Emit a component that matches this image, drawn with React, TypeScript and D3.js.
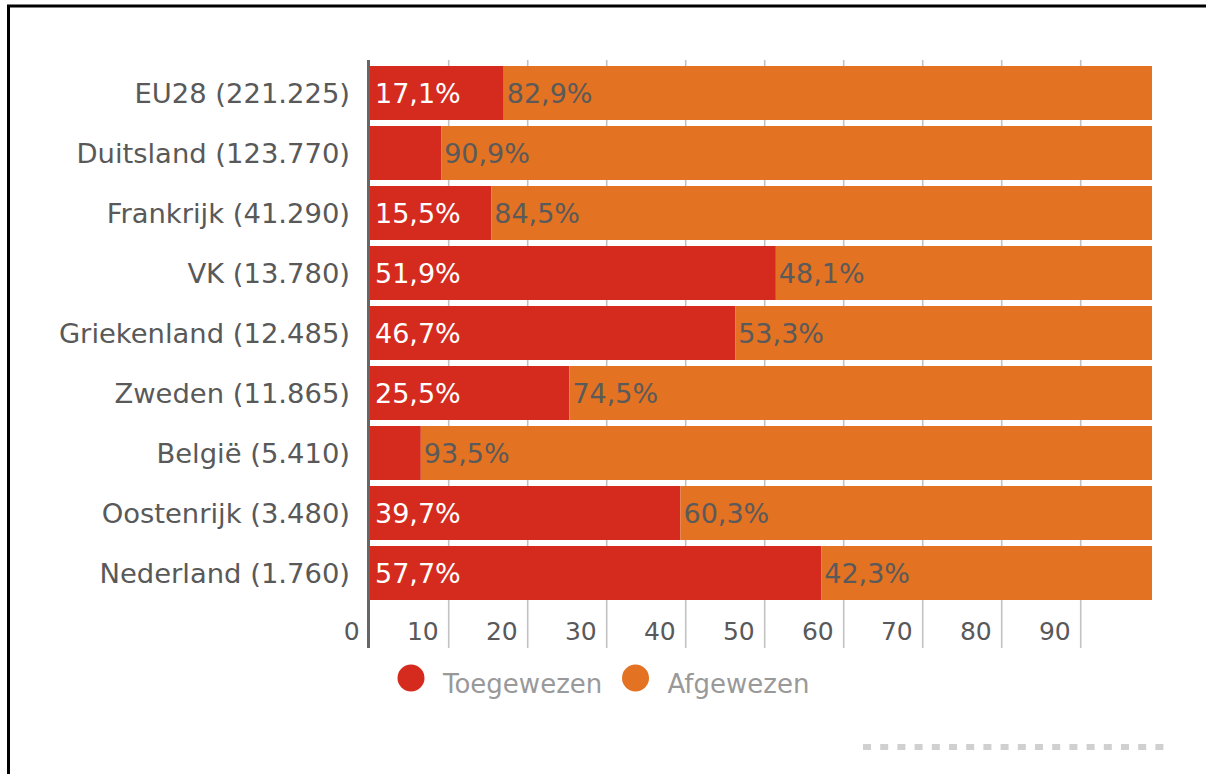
import React from "react";
import * as d3 from "d3";

const categories = [
  "EU28 (221.225)",
  "Duitsland (123.770)",
  "Frankrijk (41.290)",
  "VK (13.780)",
  "Griekenland (12.485)",
  "Zweden (11.865)",
  "België (5.410)",
  "Oostenrijk (3.480)",
  "Nederland (1.760)",
];
const toegewezen = [17.1, 9.1, 15.5, 51.9, 46.7, 25.5, 6.5, 39.7, 57.7];
const afgewezen = [82.9, 90.9, 84.5, 48.1, 53.3, 74.5, 93.5, 60.3, 42.3];
const tickValues = [0, 10, 20, 30, 40, 50, 60, 70, 80, 90];
const seriesNames = ["Toegewezen", "Afgewezen"];
const seriesColors = ["#d52b1e", "#e37222"];

const fmt = (v: number) => v.toFixed(1).replace(".", ",") + "%";

export default function App() {
  const W = 1206;
  const H = 774;
  const plotTop = 60;
  const gridBottom = 648;

  const xBar = d3.scaleLinear().domain([0, 100]).range([370, 1152]);
  const xGrid = d3.scaleLinear().domain([0, 100]).range([369.7, 1159.7]);
  const y = d3
    .scaleBand<string>()
    .domain(categories)
    .range([63, 603])
    .paddingInner(0.1)
    .paddingOuter(0.05);

  const font = "'DejaVu Sans', Verdana, sans-serif";

  return (
    <svg
      width={W}
      height={H}
      style={{ position: "fixed", left: 0, top: 0, background: "#fff" }}
      fontFamily={font}
    >
      <rect x={0} y={0} width={W} height={H} fill="#fff" />
      {/* frame */}
      <rect x={8.5} y={6} width={W + 20} height={H + 20} fill="none" stroke="#000" strokeWidth={3} />

      {/* grid lines */}
      {tickValues
        .filter((t) => t > 0)
        .map((t) => (
          <line
            key={"g" + t}
            x1={xGrid(t)}
            x2={xGrid(t)}
            y1={plotTop}
            y2={gridBottom}
            stroke="#c2c2c2"
            strokeWidth={1.6}
          />
        ))}

      {/* bars */}
      {categories.map((c, i) => {
        const yy = y(c)!;
        const bh = y.bandwidth();
        const r = toegewezen[i];
        const o = afgewezen[i];
        const x0 = xBar(0);
        const x1 = xBar(r);
        const x2 = xBar(r + o);
        return (
          <g key={c}>
            <rect x={x0} y={yy} width={x1 - x0} height={bh} fill={seriesColors[0]} />
            <rect x={x1} y={yy} width={x2 - x1} height={bh} fill={seriesColors[1]} />
            {r >= 10 && (
              <text x={x0 + 5} y={yy + bh / 2} dy="0.36em" fontSize={27} fill="#fff">
                {fmt(r)}
              </text>
            )}
            <text x={x1 + 3} y={yy + bh / 2} dy="0.36em" fontSize={27} fill="#5a5a5a">
              {fmt(o)}
            </text>
            <text
              x={350}
              y={yy + bh / 2}
              dy="0.36em"
              fontSize={27.4}
              fill="#595959"
              textAnchor="end"
            >
              {c}
            </text>
          </g>
        );
      })}

      {/* left axis line */}
      <line x1={368.5} x2={368.5} y1={plotTop} y2={gridBottom} stroke="#666" strokeWidth={3} />

      {/* tick labels */}
      {tickValues.map((t) => (
        <text
          key={"t" + t}
          x={xGrid(t) - 10}
          y={640}
          fontSize={25}
          fill="#595959"
          textAnchor="end"
        >
          {t}
        </text>
      ))}

      {/* legend */}
      {seriesNames.map((n, i) => {
        const cx = [411, 635.5][i];
        return (
          <g key={n}>
            <circle cx={cx} cy={678} r={13.5} fill={seriesColors[i]} />
            <text x={cx + 32} y={693} fontSize={26} fill="#999">
              {n}
            </text>
          </g>
        );
      })}

      {/* dotted decoration */}
      <line
        x1={863}
        x2={1168}
        y1={747}
        y2={747}
        stroke="#d0d0d0"
        strokeWidth={6}
        strokeDasharray="8 9.2"
      />
    </svg>
  );
}
